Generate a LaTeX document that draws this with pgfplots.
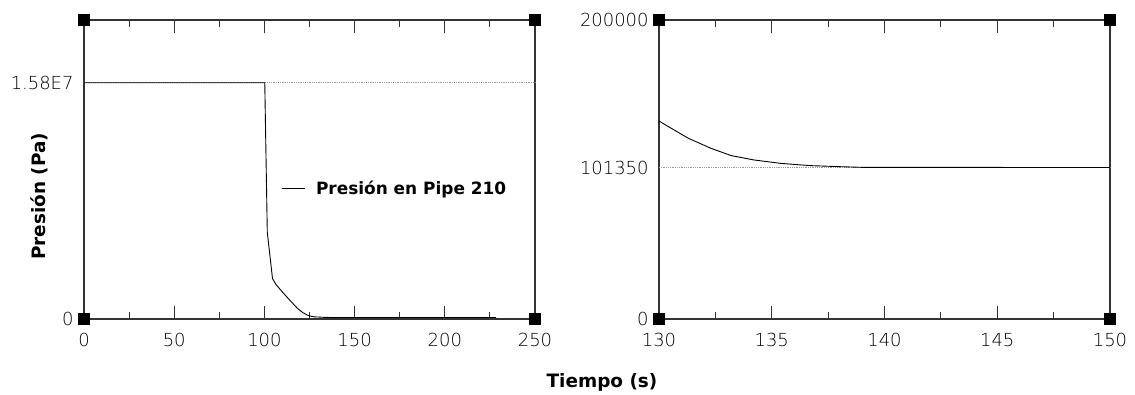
\documentclass[border=0pt]{standalone}
\usepackage{fontspec}
\usepackage{pgfplots}
\pgfplotsset{compat=1.18}
\setmainfont{DejaVu Sans}
\newfontfamily\ticklight{DejaVu Sans ExtraLight}
\newfontfamily\labbold{DejaVu Sans}
\pgfplotstableread{
t p
0 1.58e7
100 1.58e7
100.2 1.58e7
101.6 5.8e6
104.5 2.7e6
106.5 2.3e6
110 1.8e6
114 1.27e6
118 0.75e6
121 0.45e6
124 0.25e6
126 0.18e6
128 0.14e6
130 132440
133.2 109300
136.7 102600
139.1 101400
228.5 101350
}\leftdata
\pgfplotstableread{
t p
130 132440
130.3 129700
131.3 120900
132.3 114200
133.2 109300
134.2 106400
135.4 104100
136.7 102600
138 101900
139.1 101400
150 101350
}\rightdata
\pgfplotsset{
  myaxis/.style={
    scale only axis, width=451bp, height=299bp,
    axis line style={line width=1.2bp, black!80},
    tick align=inside, xtick pos=both, ytick pos=left,
    major tick length=13bp, minor tick length=7bp,
    every tick/.style={line width=1bp, black!80},
    ytick style={draw=none},
    minor x tick num=1,
    clip=false,
    scaled ticks=false,
    /pgf/number format/assume math mode=true,
    ticklabel style={font=\ticklight\fontsize{18}{20}\selectfont, text=black},
    xticklabel style={yshift=-11bp},
    yticklabel style={xshift=-7bp},
  }
}
\begin{document}
\begin{tikzpicture}[x=1bp,y=1bp]
\useasboundingbox (0,0) rectangle (1135,394);
\begin{axis}[myaxis, at={(84bp,75bp)}, anchor=south west,
  xmin=0, xmax=250, ymin=0, ymax=2e7,
  xtick={0,50,100,150,200,250},
  ytick={0,1.58e7}, yticklabels={0,1.58E7},
  ylabel={Presión (Pa)},
  ylabel style={at={(axis description cs:-0.1,0.41)}, anchor=center, font=\labbold\bfseries\fontsize{18.5}{20}\selectfont},
  legend style={at={(axis description cs:0.43,0.438)}, anchor=west, draw=none, fill=none, font=\labbold\bfseries\fontsize{17}{19}\selectfont},
  legend image code/.code={\draw[#1] (0bp,0bp) -- (23bp,0bp); \path (32bp,0bp);},
]
\addplot[densely dotted, black!40, line width=0.8bp, forget plot] coordinates {(0,1.58e7) (250,1.58e7)};
\addplot[black, line width=0.9bp] table[x=t,y=p] {\leftdata};
\addlegendentry{Presión en Pipe 210}
\addplot[only marks, mark=square*, mark size=5.5bp, black, forget plot] coordinates {(0,0) (250,0) (0,2e7) (250,2e7)};
\end{axis}
\begin{axis}[myaxis, at={(659bp,75bp)}, anchor=south west,
  xmin=130, xmax=150, ymin=0, ymax=200000,
  xtick={130,135,140,145,150},
  ytick={0,101350,200000}, yticklabels={0,101350,200000},
]
\addplot[densely dotted, black!40, line width=0.8bp] coordinates {(130,101350) (150,101350)};
\addplot[black, line width=0.9bp] table[x=t,y=p] {\rightdata};
\addplot[only marks, mark=square*, mark size=5.5bp, black] coordinates {(130,0) (150,0) (130,200000) (150,200000)};
\end{axis}
\node[font=\labbold\bfseries\fontsize{18.5}{20}\selectfont] at (602,12) {Tiempo (s)};
\end{tikzpicture}
\end{document}
